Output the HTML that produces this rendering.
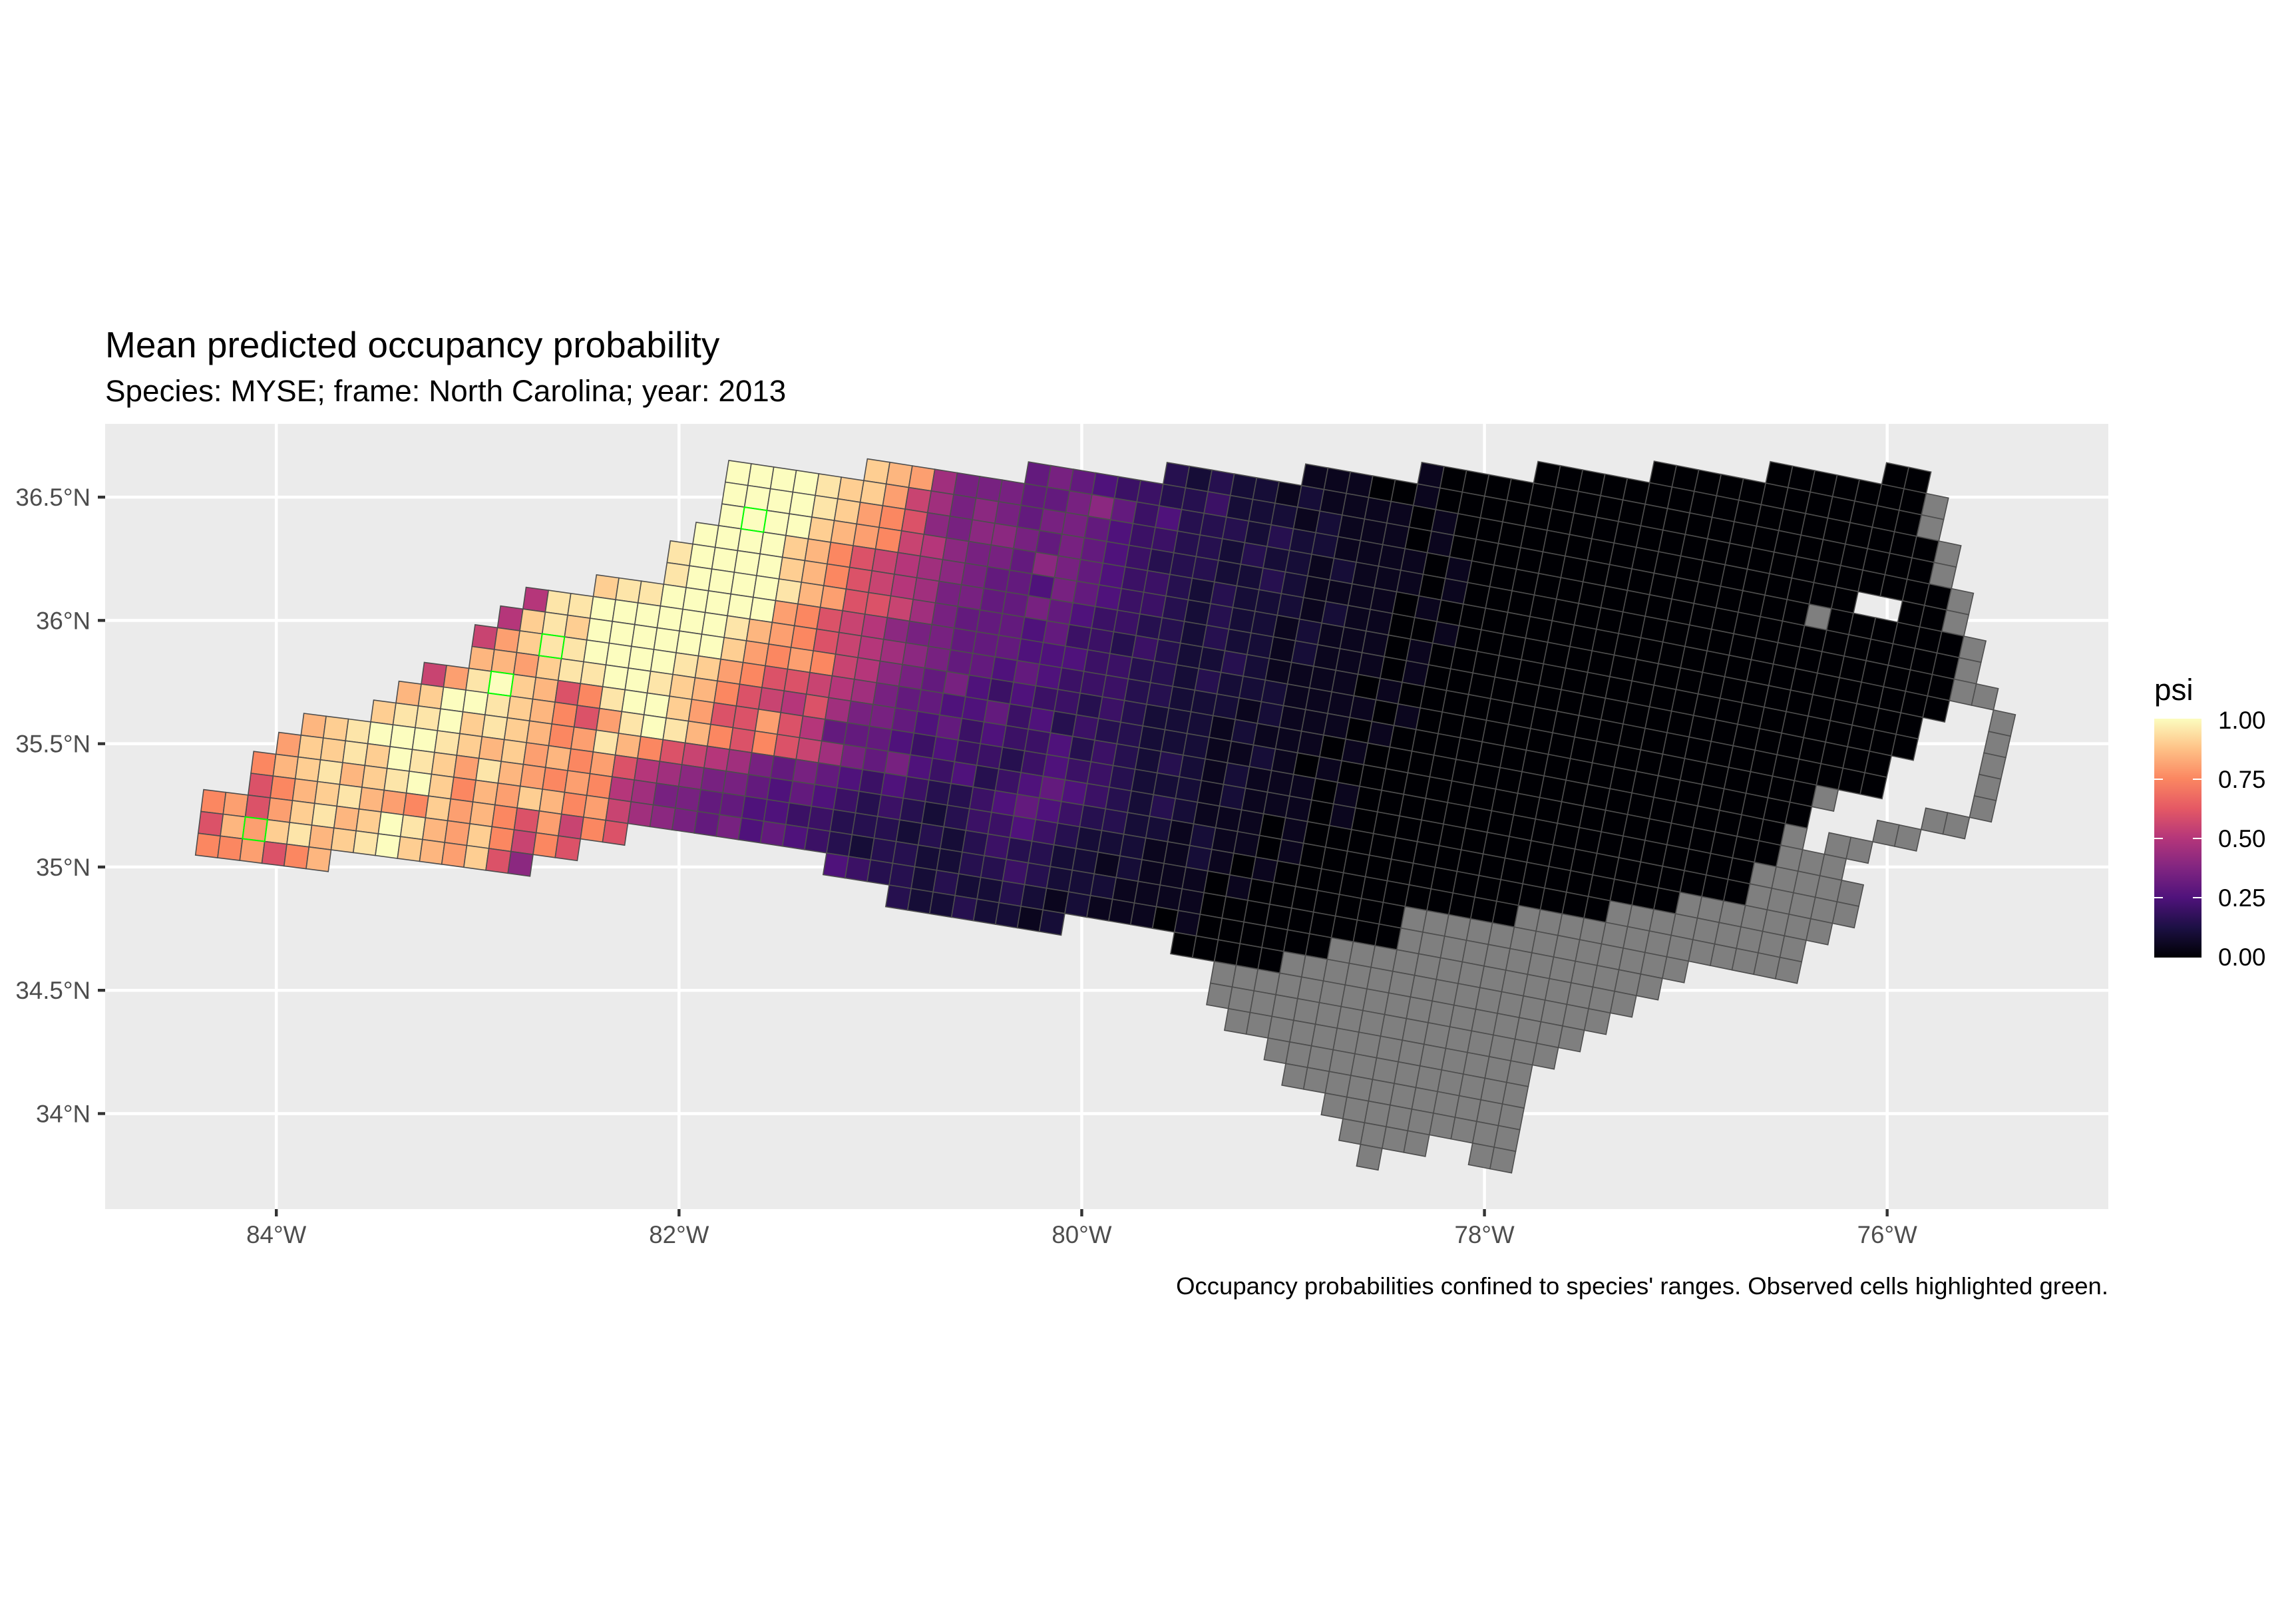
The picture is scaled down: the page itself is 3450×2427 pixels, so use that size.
<!DOCTYPE html>
<html>
<head>
<meta charset="utf-8">
<style>
  html,body{margin:0;padding:0;background:#fff;}
  svg{display:block;}
  text{font-family:"Liberation Sans",Arial,sans-serif;}
</style>
</head>
<body>
<svg id="chart" width="3450" height="2427" viewBox="0 0 3450 2427" xmlns="http://www.w3.org/2000/svg">
  <rect x="0" y="0" width="3450" height="2427" fill="#ffffff"/>
  <text x="158" y="537" font-size="55" fill="#000">Mean predicted occupancy probability</text>
  <text x="158" y="603" font-size="45.8" fill="#000">Species: MYSE; frame: North Carolina; year: 2013</text>
  <rect x="158" y="637" width="3010" height="1180" fill="#EBEBEB"/>
  <g id="grid"></g>
  <g id="cells"></g>
  <g id="obs"></g>
  <g id="axes"></g>
  <text x="3168" y="1945" font-size="36.5" text-anchor="end" fill="#000">Occupancy probabilities confined to species' ranges. Observed cells highlighted green.</text>
  <g id="legend">
    <defs>
      <linearGradient id="magmaGrad" x1="0" y1="1" x2="0" y2="0">
        <stop offset="0" stop-color="#000004"/>
        <stop offset="0.125" stop-color="#1c1044"/>
        <stop offset="0.25" stop-color="#4f127b"/>
        <stop offset="0.375" stop-color="#812581"/>
        <stop offset="0.5" stop-color="#b5367a"/>
        <stop offset="0.625" stop-color="#e55964"/>
        <stop offset="0.75" stop-color="#fb8761"/>
        <stop offset="0.875" stop-color="#fec287"/>
        <stop offset="1" stop-color="#fcfdbf"/>
      </linearGradient>
    </defs>
    <text x="3237" y="1052" font-size="45.8" fill="#000">psi</text>
    <rect x="3237" y="1080" width="71" height="359" fill="url(#magmaGrad)"/>
  </g>
</svg>
<script>
// ---- data ----
const lonTicks = [-84, -82, -80, -78, -76];
const lonLabels = ["84°W", "82°W", "80°W", "78°W", "76°W"];
const latTicks = [34, 34.5, 35, 35.5, 36, 36.5];
const latLabels = ["34°N", "34.5°N", "35°N", "35.5°N", "36°N", "36.5°N"];
const legendTicks = [0, 0.25, 0.5, 0.75, 1];
const legendLabels = ["0.00", "0.25", "0.50", "0.75", "1.00"];
// grid rows v = -9 .. 26 ; start column u for each row
const firstRow = -9;
const rowStart = [50,45,40,35,30,25,19,13,6,0,0,0,-1,-2,-2,-5,-8,-9,-10,-10,-12,-13,-14,-17,-18,-19,-19,-21,-21,-21,26,28,29,31,32,33];
// cell codes (run-length): a..u = psi 0.00..1.00 step 0.05, '#' = outside range (grey), '.' = no cell
const rowCells = [
 "a2",
 "a7#",
 "a12#",
 "a18#",
 "ba22#",
 "bbbaaba23#",
 "dcdccbcbbbbab" + "a18" + ".2" + "a2" + "#",
 "ghgfeeddeccc" + "bcbbbaba" + "a15" + "#" + "a6" + "#",
 "srqjhhhggh" + "igefdddcdc" + "cbbbbab" + "a22" + "#",
 "uuuutssqlj" + "hihghhgfee" + "ddcdccbcbb" + "babaa" + "a20" + "#2",
 "uuuutsqpmi" + "hiihghgfed" + "ddccdcbbbb" + "abaaa" + "a20" + ".2" + "#",
 "uuuusrqplk" + "ihhgihgfee" + "dcdcccbcbb" + "aabaa" + "a19" + ".3" + "#",
 "uuuusrpmlk" + "jihggfhgfe" + "edcdccbcbb" + "babaa" + "a20" + ".3#",
 "tuuuusrpml" + "kjhhgghgfe" + "eddcdccbcb" + "bbaba" + "a20" + ".4#",
 "tuuuutrqmm" + "ljhgggfgee" + "dedccdcbbb" + "babaa" + "a20" + ".4#",
 "sttuuuuuqp" + "mlkihhgggf" + "ffeeddcdcc" + "cbbbbabaaa" + "a15" + "#" + ".4" + "#2",
 "kttuuuuuut" + "rqpmlkjihg" + "gfgfeeeddc" + "ccbcbbbaba" + "a18" + ".3" + "#2",
 "kstsuuuuuu" + "sqpqplkihg" + "hfefeededc" + "ccbcbbbaba" + "a18" + "#.#2",
 "lqsttuuuut" + "sqpmmlkjhg" + "gffgefdedd" + "cccbbcbab" + "a20" + "#3",
 "rrqsttuuts" + "rpmlkmjhhg" + "fgefeefded" + "cdcbcbbbab" + "a18" + "#5",
 "lqtusrmptu" + "usqmmqmkgg" + "gfefeedefe" + "edcccbcbbb" + "ab" + "a18" + "#5",
 "rsuutsrpmq" + "tutrpmpmlj" + "hghfefdefg" + "fedcdcbbba" + "b" + "a17" + "#7",
 "sttustsrpq" + "trpmlkjhgh" + "gfefeddefg" + "feddccbcbb" + "ab" + "a14" + "#9",
 "rstuuutsrs" + "qrpqmkjihh" + "gfgfededcd" + "eefedcccbb" + "cbab" + "a11" + "#13",
 "qsstsutsqt" + "rqpqpkjhhg" + "gffeedddcd" + "cdeddccbcb" + "bbab" + "a7" + "#13",
 "prstrstusp" + "rqsrpqljih" + "ghfgfedcdd" + "ccddedcccb" + "bbba" + "a8" + "#12",
 "mprstrqpsq" + "rpmqlpm" + ".9" + "feddcdccdc" + "bcbbbabaaa" + "a3" + "#14",
 "pqmqstrsut" + "rqsplpm" + ".14" + "dccdccbc" + ".5" + "a5" + "#15",
 "mrqstrstusrqsmi" + ".31" + "#17",
 "ppqmpr" + ".40" + "#16",
 "#14",
 "#12",
 "#11",
 "#9",
 "#4.2#2",
 "#"
];
// cells where the species was observed [u, v]
const observedU = [1, -7, -9, -19];
const observedV = [2, 9, 11, 19];

// ---- scales ----
const NS = "http://www.w3.org/2000/svg";
const panel = {x0: 158, x1: 3168, y0: 637, y1: 1817};
function xScale(lon) { return 415.2 + (lon + 84) * 302.56; }
function yScale(lat) { return 747.1 + (36.5 - lat) * 370.55; }
// Albers equal-area (CONUS) grid of 10 km cells
const D2R = Math.PI / 180;
const nA = (Math.sin(29.5 * D2R) + Math.sin(45.5 * D2R)) / 2;
const CA = Math.cos(29.5 * D2R) ** 2 + 2 * nA * Math.sin(29.5 * D2R);
const RA = 6371;
function rhoOf(lat) { return RA * Math.sqrt(CA - 2 * nA * Math.sin(lat * D2R)) / nA; }
const originLon = -81.753, originLat = 36.649;
const th0 = nA * (originLon + 96) * D2R, r0 = rhoOf(originLat);
const X0 = r0 * Math.sin(th0), Y0 = r0 * Math.cos(th0);
function corner(u, v) {
  const X = X0 + 10 * u, Y = Y0 + 10 * v;
  const rho = Math.hypot(X, Y), th = Math.atan2(X, Y);
  const lon = -96 + th / nA / D2R;
  const lat = Math.asin((CA - (rho * nA / RA) ** 2) / (2 * nA)) / D2R;
  return [xScale(lon), yScale(lat)];
}
const magma = [[0,"#000004"],[0.125,"#1c1044"],[0.25,"#4f127b"],[0.375,"#812581"],[0.5,"#b5367a"],[0.625,"#e55964"],[0.75,"#fb8761"],[0.875,"#fec287"],[1,"#fcfdbf"]];
function hex(h){return [1,3,5].map(i=>parseInt(h.substr(i,2),16));}
function colorOf(p) {
  for (let i = 1; i < magma.length; i++) {
    if (p <= magma[i][0]) {
      const t = (p - magma[i-1][0]) / (magma[i][0] - magma[i-1][0]);
      const a = hex(magma[i-1][1]), b = hex(magma[i][1]);
      return "rgb(" + a.map((c, k) => Math.round(c + (b[k] - c) * t)).join(",") + ")";
    }
  }
  return magma[magma.length-1][1];
}
function mk(tag, attrs, parent) {
  const el = document.createElementNS(NS, tag);
  for (const k in attrs) el.setAttribute(k, attrs[k]);
  parent.appendChild(el);
  return el;
}
function cellPoints(u, v) {
  return [corner(u, v), corner(u + 1, v), corner(u + 1, v + 1), corner(u, v + 1)]
    .map(p => p[0].toFixed(1) + "," + p[1].toFixed(1)).join(" ");
}

// ---- gridlines ----
const grid = document.getElementById("grid");
lonTicks.forEach(lon => {
  const l = mk("line", {x1: xScale(lon), x2: xScale(lon), y1: panel.y0, y2: panel.y1, stroke: "#fff", "stroke-width": 4.5}, grid);
  
  
});
latTicks.forEach(lat => {
  const l = mk("line", {x1: panel.x0, x2: panel.x1, y1: yScale(lat), y2: yScale(lat), stroke: "#fff", "stroke-width": 4.5}, grid);
  
  
});

// ---- cells ----
const cellsG = document.getElementById("cells");
rowCells.forEach((code, i) => {
  const v = firstRow + i;
  let u = rowStart[i];
  let k = 0;
  while (k < code.length) {
    const ch = code[k]; k++;
    let num = "";
    while (k < code.length && /[0-9]/.test(code[k])) { num += code[k]; k++; }
    const rep = num ? parseInt(num, 10) : 1;
    for (let r = 0; r < rep; r++) {
      if (ch !== ".") {
        const fill = ch === "#" ? "#7F7F7F" : colorOf((ch.charCodeAt(0) - 97) * 0.05);
        const poly = mk("polygon", {points: cellPoints(u, v), fill: fill, stroke: "#4d4d4d", "stroke-width": 1.6}, cellsG);
        
        
      }
      u++;
    }
  }
});
const obsG = document.getElementById("obs");
observedU.forEach((u, i) => {
  const p = mk("polygon", {points: cellPoints(u, observedV[i]), fill: "none", stroke: "#00ff00", "stroke-width": 2}, obsG);
  
  
});

// ---- axes ----
const axes = document.getElementById("axes");
lonTicks.forEach((lon, i) => {
  const t = mk("line", {x1: xScale(lon), x2: xScale(lon), y1: panel.y1, y2: panel.y1 + 11, stroke: "#333", "stroke-width": 4.4}, axes);
  
  
  const tx = mk("text", {x: xScale(lon), y: 1868, "font-size": 36.7, fill: "#4D4D4D", "text-anchor": "middle"}, axes);
  tx.textContent = lonLabels[i];
  
  
});
latTicks.forEach((lat, i) => {
  const t = mk("line", {x1: panel.x0 - 11, x2: panel.x0, y1: yScale(lat), y2: yScale(lat), stroke: "#333", "stroke-width": 4.4}, axes);
  
  
  const tx = mk("text", {x: 136, y: yScale(lat) + 13, "font-size": 36.7, fill: "#4D4D4D", "text-anchor": "end"}, axes);
  tx.textContent = latLabels[i];
  
  
});

// ---- legend ----
const legend = document.getElementById("legend");
const barTop = 1082, barBot = 1438;
function legendY(p) { return barBot - p * (barBot - barTop); }
legendTicks.forEach((p, i) => {
  if (p > 0 && p < 1) {
    const a = mk("line", {x1: 3237, x2: 3250, y1: legendY(p), y2: legendY(p), stroke: "#fff", "stroke-width": 2}, legend);
    
    
    const b = mk("line", {x1: 3295, x2: 3308, y1: legendY(p), y2: legendY(p), stroke: "#fff", "stroke-width": 2}, legend);
    
    
  }
  const tx = mk("text", {x: 3333, y: legendY(p) + 13, "font-size": 36.7, fill: "#000"}, legend);
  tx.textContent = legendLabels[i];
  
  
});
</script>
</body>
</html>
